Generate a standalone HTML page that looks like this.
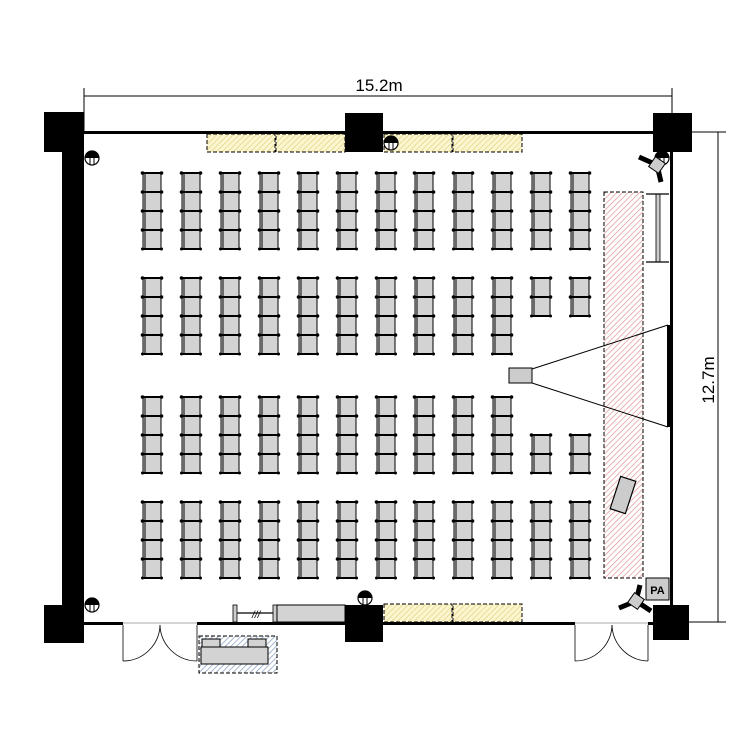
<!DOCTYPE html>
<html><head><meta charset="utf-8"><style>html,body{margin:0;padding:0;background:#fff}svg{display:block}</style></head>
<body>
<svg width="750" height="750" viewBox="0 0 750 750" xmlns="http://www.w3.org/2000/svg">
<defs>
<pattern id="hy" patternUnits="userSpaceOnUse" width="4" height="4" patternTransform="rotate(45)"><rect width="4" height="4" fill="#fbf5d0"/><line x1="0" y1="0" x2="0" y2="4" stroke="#e2d27a" stroke-width="1.3"/></pattern>
<pattern id="hr" patternUnits="userSpaceOnUse" width="4" height="4" patternTransform="rotate(45)"><rect width="4" height="4" fill="#fff"/><line x1="0" y1="0" x2="0" y2="4" stroke="#df8c8c" stroke-width="1.3"/></pattern>
<pattern id="hb" patternUnits="userSpaceOnUse" width="4" height="4" patternTransform="rotate(45)"><rect width="4" height="4" fill="#fff"/><line x1="0" y1="0" x2="0" y2="4" stroke="#7f9bc0" stroke-width="1.4"/></pattern>
<g id="c"><rect x="1" y="0" width="18" height="19" fill="#d3d3d3" stroke="#000" stroke-width="1"/><line x1="3" y1="0" x2="3" y2="19" stroke="#000" stroke-width="1"/><line x1="0" y1="0" x2="20" y2="0" stroke="#000" stroke-width="2"/><circle cx="0.5" cy="0" r="1.8"/><circle cx="19.5" cy="0" r="1.8"/></g>
<g id="b4"><use href="#c" y="0"/><use href="#c" y="19"/><use href="#c" y="38"/><use href="#c" y="57"/><line x1="0" y1="76" x2="20" y2="76" stroke="#000" stroke-width="2"/><circle cx="0.5" cy="76" r="1.5"/><circle cx="19.5" cy="76" r="1.5"/></g>
<g id="b2"><use href="#c" y="0"/><use href="#c" y="19"/><line x1="0" y1="38" x2="20" y2="38" stroke="#000" stroke-width="2"/><circle cx="0.5" cy="38" r="1.5"/><circle cx="19.5" cy="38" r="1.5"/></g>
<g id="lt"><circle r="7" fill="#fff" stroke="#000" stroke-width="1.2"/><path d="M-7,0 A7,7 0 0 1 7,0 Z" fill="#000"/><line x1="-2" y1="0" x2="-2" y2="6.5" stroke="#000"/><line x1="2" y1="0" x2="2" y2="6.5" stroke="#000"/></g>
</defs>

<!-- dimensions -->
<line x1="84" y1="88" x2="84" y2="132" stroke="#000" stroke-width="1"/>
<line x1="672" y1="88" x2="672" y2="132" stroke="#000" stroke-width="1"/>
<line x1="84" y1="96" x2="672" y2="96" stroke="#000" stroke-width="1"/>
<text x="379" y="91" font-family="Liberation Sans, sans-serif" font-size="17" text-anchor="middle">15.2m</text>
<line x1="672" y1="132" x2="726" y2="132" stroke="#000" stroke-width="1"/>
<line x1="672" y1="622" x2="726" y2="622" stroke="#000" stroke-width="1"/>
<line x1="718" y1="132" x2="718" y2="622" stroke="#000" stroke-width="1"/>
<text x="0" y="0" transform="translate(714,380) rotate(-90)" font-family="Liberation Sans, sans-serif" font-size="17" text-anchor="middle">12.7m</text>

<!-- walls -->
<rect x="84" y="131" width="588" height="3" fill="#000"/>
<rect x="62" y="112" width="22" height="513" fill="#000"/>
<rect x="44" y="112" width="40" height="40" fill="#000"/>
<rect x="44" y="605" width="40" height="38" fill="#000"/>
<rect x="345" y="113" width="38" height="39" fill="#000"/>
<rect x="345" y="605" width="38" height="37" fill="#000"/>
<rect x="653" y="113" width="39" height="39" fill="#000"/>
<rect x="653" y="605" width="36" height="35" fill="#000"/>
<rect x="670" y="152" width="3" height="453" fill="#000"/>
<rect x="84" y="622" width="39" height="3" fill="#000"/>
<rect x="197" y="622" width="148" height="3" fill="#000"/>
<rect x="383" y="622" width="192" height="3" fill="#000"/>
<rect x="648" y="622" width="5" height="3" fill="#000"/>
<line x1="123" y1="623" x2="197" y2="623" stroke="#aaa"/>
<line x1="575" y1="623" x2="648" y2="623" stroke="#aaa"/>

<!-- doors -->
<g fill="none" stroke="#000" stroke-width="0.8">
<line x1="123" y1="625" x2="123" y2="661"/><path d="M123,661 A37,37 0 0 0 160,625"/>
<line x1="197" y1="625" x2="197" y2="661"/><path d="M197,661 A37,37 0 0 1 160,625"/>
<line x1="575" y1="625" x2="575" y2="661"/><path d="M575,661 A37,37 0 0 0 612,625"/>
<line x1="648" y1="625" x2="648" y2="661"/><path d="M648,661 A37,37 0 0 1 612,625"/>
</g>

<!-- yellow panels -->
<g stroke="#000" stroke-width="1" stroke-dasharray="4,2" fill="url(#hy)">
<rect x="207" y="134" width="68" height="18"/><rect x="276" y="134" width="69" height="18"/>
<rect x="384" y="134" width="68" height="18"/><rect x="453" y="134" width="69" height="18"/>
<rect x="384" y="604" width="68" height="18"/><rect x="453" y="604" width="69" height="18"/>
</g>

<!-- red area -->
<rect x="604" y="192" width="39" height="386" fill="url(#hr)" stroke="#000" stroke-dasharray="4,2"/>
<rect x="615" y="478" width="16" height="34" fill="#ccc" stroke="#000" stroke-width="1.2" transform="rotate(18 623 495)"/>

<!-- screen -->
<rect x="656" y="194" width="4" height="68" fill="#ccc" stroke="#000" stroke-width="0.8"/>
<line x1="646" y1="194" x2="669" y2="194" stroke="#000" stroke-width="1.2"/>
<line x1="646" y1="262" x2="669" y2="262" stroke="#000" stroke-width="1.2"/>
<rect x="667" y="325" width="3" height="102" fill="#000"/>
<line x1="532" y1="369" x2="668" y2="325" stroke="#000" stroke-width="1"/>
<line x1="532" y1="383" x2="668" y2="427" stroke="#000" stroke-width="1"/>
<rect x="509" y="368" width="23" height="15" fill="#ccc" stroke="#000"/>

<!-- PA and speakers -->
<rect x="646" y="578" width="23" height="22" fill="#ccc" stroke="#000"/>
<text x="657.5" y="594" font-family="Liberation Sans, sans-serif" font-size="11" font-weight="bold" text-anchor="middle">PA</text>
<use href="#lt" x="662" y="158"/>
<g transform="translate(657,165)"><line x1="0" y1="0" x2="-18" y2="-8" stroke="#000" stroke-width="5"/><line x1="0" y1="0" x2="4" y2="17" stroke="#000" stroke-width="5"/><rect x="-6" y="-6" width="12" height="12" fill="#ccc" stroke="#000" transform="rotate(35)"/></g>
<g transform="translate(636,601)"><line x1="0" y1="0" x2="-17" y2="7" stroke="#000" stroke-width="5"/><line x1="0" y1="0" x2="4" y2="-16" stroke="#000" stroke-width="5"/><line x1="0" y1="0" x2="15" y2="10" stroke="#000" stroke-width="5"/><rect x="-6" y="-6" width="12" height="12" fill="#ccc" stroke="#000" transform="rotate(35)"/></g>

<!-- lights -->
<use href="#lt" x="92" y="158"/>
<use href="#lt" x="92" y="605"/>
<use href="#lt" x="391" y="143"/>
<use href="#lt" x="365" y="598"/>

<!-- bottom equipment -->
<rect x="233" y="605" width="4" height="17" fill="#ccc" stroke="#000" stroke-width="0.8"/>
<line x1="237" y1="613" x2="273" y2="613" stroke="#000" stroke-width="1.2"/>
<text x="252" y="618" font-family="Liberation Sans, sans-serif" font-size="10" font-style="italic">///</text>
<rect x="273" y="605" width="4" height="17" fill="#ccc" stroke="#000" stroke-width="0.8"/>
<rect x="277" y="605" width="68" height="17" fill="#d3d3d3" stroke="#000"/>
<rect x="199" y="636" width="78" height="37" fill="url(#hb)" stroke="#000" stroke-dasharray="4,2"/>
<rect x="201" y="647" width="67" height="17" fill="#d3d3d3" stroke="#000"/>
<rect x="202" y="639" width="18" height="8" fill="#d3d3d3" stroke="#000"/>
<rect x="248" y="639" width="18" height="8" fill="#d3d3d3" stroke="#000"/>

<!-- chairs -->
<g>
<use href="#b4" x="142" y="173"/><use href="#b4" x="181" y="173"/><use href="#b4" x="220" y="173"/><use href="#b4" x="259" y="173"/><use href="#b4" x="298" y="173"/><use href="#b4" x="337" y="173"/><use href="#b4" x="376" y="173"/><use href="#b4" x="414" y="173"/><use href="#b4" x="453" y="173"/><use href="#b4" x="492" y="173"/><use href="#b4" x="531" y="173"/><use href="#b4" x="570" y="173"/>
<use href="#b4" x="142" y="278"/><use href="#b4" x="181" y="278"/><use href="#b4" x="220" y="278"/><use href="#b4" x="259" y="278"/><use href="#b4" x="298" y="278"/><use href="#b4" x="337" y="278"/><use href="#b4" x="376" y="278"/><use href="#b4" x="414" y="278"/><use href="#b4" x="453" y="278"/><use href="#b4" x="492" y="278"/><use href="#b2" x="531" y="278"/><use href="#b2" x="570" y="278"/>
<use href="#b4" x="142" y="397"/><use href="#b4" x="181" y="397"/><use href="#b4" x="220" y="397"/><use href="#b4" x="259" y="397"/><use href="#b4" x="298" y="397"/><use href="#b4" x="337" y="397"/><use href="#b4" x="376" y="397"/><use href="#b4" x="414" y="397"/><use href="#b4" x="453" y="397"/><use href="#b4" x="492" y="397"/><use href="#b2" x="531" y="435"/><use href="#b2" x="570" y="435"/>
<use href="#b4" x="142" y="502"/><use href="#b4" x="181" y="502"/><use href="#b4" x="220" y="502"/><use href="#b4" x="259" y="502"/><use href="#b4" x="298" y="502"/><use href="#b4" x="337" y="502"/><use href="#b4" x="376" y="502"/><use href="#b4" x="414" y="502"/><use href="#b4" x="453" y="502"/><use href="#b4" x="492" y="502"/><use href="#b4" x="531" y="502"/><use href="#b4" x="570" y="502"/>
</g>
</svg>
</body></html>
